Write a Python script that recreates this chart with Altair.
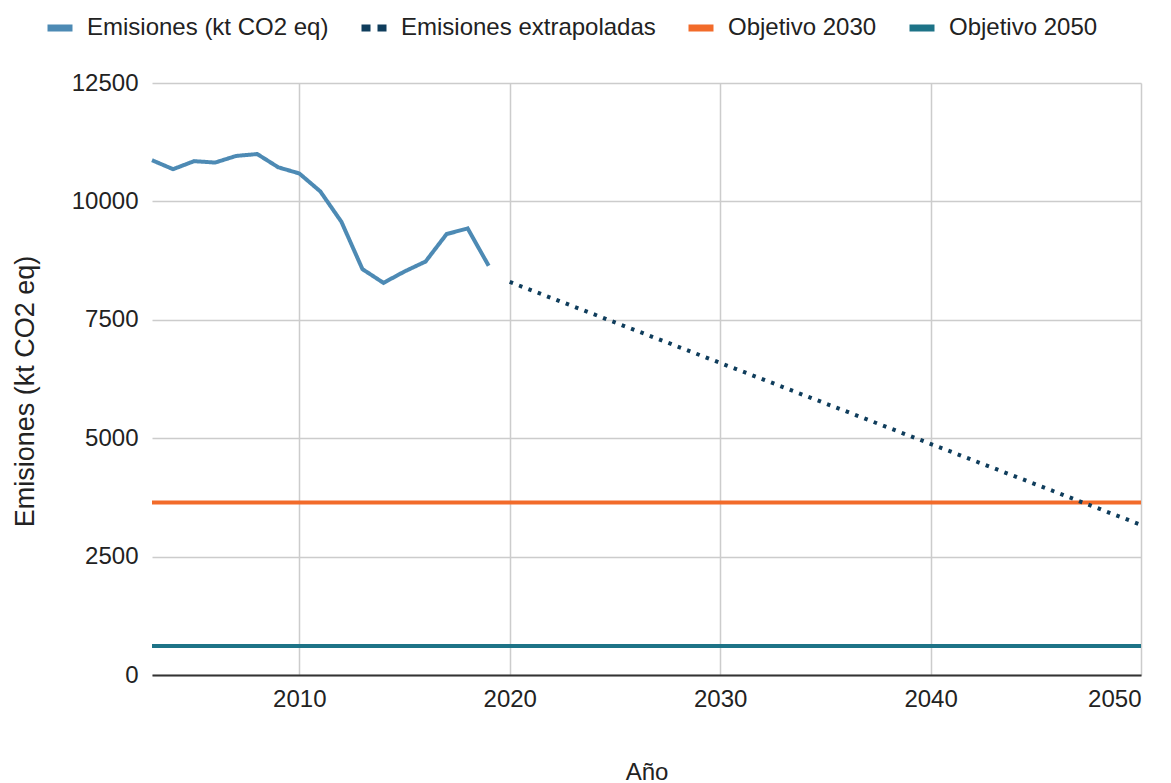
import altair as alt
import pandas as pd

# ---- data ----
years = list(range(2003, 2020))
emisiones = [10870, 10680, 10850, 10820, 10960, 11000, 10720, 10590, 10210,
             9570, 8570, 8280, 8520, 8730, 9310, 9430, 8640]
extrap_years = [2020, 2050]
extrap_values = [8300, 3170]
objetivo_years = [2003, 2050]
objetivo_2030 = [3640, 3640]
objetivo_2050 = [610, 610]

series_names = ["Emisiones (kt CO2 eq)", "Emisiones extrapoladas",
                "Objetivo 2030", "Objetivo 2050"]
series_colors = ["#4d8ab4", "#0f3d5c", "#f26b2a", "#1d7387"]
legend_dashes = [[1, 0], [9, 7], [1, 0], [1, 0]]

x_ticks = [2010, 2020, 2030, 2040, 2050]
y_ticks = [0, 2500, 5000, 7500, 10000, 12500]

FONT = "Liberation Sans"

# ---- tables ----
solid_rows = []
for y, v in zip(years, emisiones):
    solid_rows.append({"serie": series_names[0], "year": y, "value": v})
for y, v in zip(objetivo_years, objetivo_2030):
    solid_rows.append({"serie": series_names[2], "year": y, "value": v})
for y, v in zip(objetivo_years, objetivo_2050):
    solid_rows.append({"serie": series_names[3], "year": y, "value": v})
solid_df = pd.DataFrame(solid_rows)

extrap_df = pd.DataFrame({"serie": series_names[1], "year": extrap_years,
                          "value": extrap_values})

legend = alt.Legend(
    title=None, orient="none", legendX=-108, legendY=-71,
    direction="horizontal", symbolType="stroke", symbolSize=625,
    symbolStrokeWidth=7, labelFont=FONT, labelFontSize=24,
    labelColor="#222222", labelOffset=11, columnPadding=18, labelLimit=400,
)

x_enc = alt.X("year:Q",
              scale=alt.Scale(domain=[2003, 2050], nice=False, zero=False),
              axis=alt.Axis(values=x_ticks, format="d", title="Año",
                            domain=True, domainColor="#333333", domainWidth=2,
                            labelPadding=12, titleY=97, titleBaseline="middle"))
y_enc = alt.Y("value:Q",
              scale=alt.Scale(domain=[0, 12500], nice=False),
              axis=alt.Axis(values=y_ticks, format="d",
                            title="Emisiones (kt CO2 eq)", labelPadding=14,
                            titleX=-127, titleY=308, titleAngle=-90,
                            titleFontSize=27,
                            titleAlign="center", titleBaseline="middle"))
color_enc = alt.Color("serie:N",
                      scale=alt.Scale(domain=series_names, range=series_colors),
                      legend=legend, sort=series_names)

solid = alt.Chart(solid_df).mark_line(strokeWidth=4, strokeCap="butt").encode(
    x=x_enc, y=y_enc, color=color_enc,
    strokeDash=alt.StrokeDash("serie:N",
                              scale=alt.Scale(domain=series_names,
                                              range=legend_dashes),
                              legend=legend, sort=series_names),
)

dotted = alt.Chart(extrap_df).mark_line(
    strokeWidth=4, strokeDash=[3.5, 6.5], strokeCap="butt"
).encode(x=x_enc, y=y_enc, color=color_enc)

chart = alt.layer(solid, dotted).properties(
    width=989, height=592,
    autosize=alt.AutoSizeParams(type="none"),
    padding={"left": 152, "top": 83, "right": 30, "bottom": 108},
    background="white",
).configure_view(stroke=None).configure_axis(
    labelFont=FONT, labelFontSize=24, labelColor="#222222",
    titleFont=FONT, titleFontSize=24, titleFontWeight="normal",
    titleColor="#222222", gridColor="#cccccc", gridWidth=1.5,
    ticks=False, domain=False,
)

chart.save("out.html", embed_options={"renderer": "svg", "actions": False})
